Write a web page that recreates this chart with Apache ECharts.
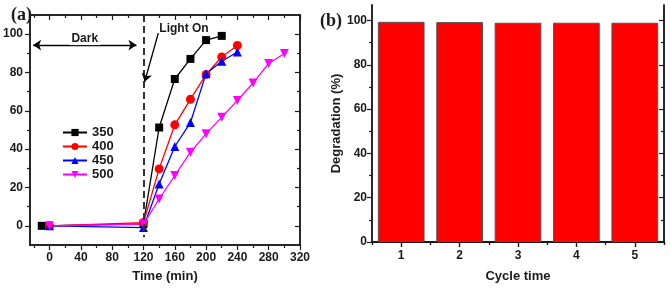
<!DOCTYPE html>
<html>
<head>
<meta charset="utf-8">
<script src="https://cdn.jsdelivr.net/npm/echarts@6/dist/echarts.min.js"></script>
<style>
  html, body { margin: 0; padding: 0; background: #fff; }
  #chart { width: 670px; height: 288px; }
</style>
</head>
<body>
<div id="chart"></div>
<script>
// (a) degradation vs time, one series per setting
const times350 = [-10, 120, 140, 160, 180, 200, 220]
const deg350 = [0, 1.0, 51.3, 76.6, 87.1, 96.9, 99.1]
const times400 = [0, 120, 140, 160, 180, 200, 220, 240]
const deg400 = [0, 1.7, 29.7, 52.7, 66.0, 79.0, 88.1, 94.1]
const times450 = [0, 120, 140, 160, 180, 200, 220, 240]
const deg450 = [0, -0.9, 21.8, 41.4, 53.9, 79.4, 85.9, 90.7]
const times500 = [0, 120, 140, 160, 180, 200, 220, 240, 260, 280, 300]
const deg500 = [0, 0.9, 14.0, 26.2, 38.4, 48.0, 56.7, 65.4, 74.5, 84.7, 89.9]

const timeTicks = [0, 40, 80, 120, 160, 200, 240, 280, 320]
const timeMinor = [-20, 20, 60, 100, 140, 180, 220, 260, 300]
const degTicks = [0, 20, 40, 60, 80, 100]
const degMinor = [10, 30, 50, 70, 90]

// (b) cycling test
const cycles = ['1', '2', '3', '4', '5']
const degCycle = [99.4, 99.3, 99.0, 99.0, 99.0]

const ink = '#1a1a1a'
const font = 'Liberation Sans'
const labelStyle = { color: ink, fontFamily: font, fontWeight: 'bold', fontSize: 12 }

const zip = (xs, ys) => xs.map((x, i) => [x, ys[i]])

// box frame: labelled main axis + minor ticks, mirrored inward on the far side
function valueFrame(dim, grid, min, max, majors, minors, margin, extra) {
  const sides = dim === 'x' ? ['bottom', 'top'] : ['left', 'right']
  const mk = (pos, vals, len, inside, withLabel) => ({
    type: 'value', gridIndex: grid, min, max, position: pos,
    axisLine: { show: true, onZero: false, lineStyle: { color: ink, width: 1.5 } },
    splitLine: { show: false },
    axisTick: { show: true, inside, length: len, customValues: vals, lineStyle: { color: ink, width: 1.2 } },
    axisLabel: withLabel ? Object.assign({ customValues: vals }, labelStyle, { margin }) : { show: false }
  })
  return [
    Object.assign(mk(sides[0], majors, 5, false, true), extra || {}),
    mk(sides[0], minors, 3, false, false),
    mk(sides[1], majors, 5, true, false),
    mk(sides[1], minors, 3, true, false)
  ]
}

function categoryFrame(grid, data, extra) {
  const mk = (pos, align, len, inside, withLabel) => ({
    type: 'category', gridIndex: grid, data, position: pos,
    axisLine: { show: true, lineStyle: { color: ink, width: 1.5 } },
    axisTick: { show: true, alignWithLabel: align, inside, length: len, lineStyle: { color: ink, width: 1.2 } },
    axisLabel: withLabel ? Object.assign({}, labelStyle, { margin: 8 }) : { show: false }
  })
  return [
    Object.assign(mk('bottom', true, 5, false, true), extra || {}),
    mk('bottom', false, 3, false, false),
    mk('top', true, 5, true, false),
    mk('top', false, 3, true, false)
  ]
}

const axisName = { color: ink, fontFamily: font, fontWeight: 'bold', fontSize: 13 }

const lineSeries = (name, xs, ys, color, symbol, size) => ({
  name, type: 'line', xAxisIndex: 0, yAxisIndex: 0,
  data: zip(xs, ys),
  symbol, symbolSize: size,
  lineStyle: { color, width: 1.3 },
  itemStyle: { color }
})

const s350 = lineSeries('350', times350, deg350, '#000000', 'rect', 8)
s350.markLine = {
  silent: true,
  animation: false,
  symbol: 'none',
  data: [
    [
      { coord: [120, 110], lineStyle: { color: '#333', width: 2, type: [7, 4] } },
      { coord: [120, -6] }
    ],
    [
      { coord: [-21, 94.3], symbol: 'arrow', symbolSize: 8, lineStyle: { color: '#000', width: 1.3, type: 'solid' },
        label: { show: true, position: 'middle', formatter: 'Dark', distance: 0, color: ink,
                 fontFamily: font, fontWeight: 'bold', fontSize: 12, backgroundColor: '#fff', padding: [0, 2] } },
      { coord: [111, 94.3], symbol: 'arrow', symbolSize: 8 }
    ],
    [
      { coord: [139, 100.6], symbol: 'none', lineStyle: { color: '#000', width: 1.3, type: 'solid' }, label: { show: false } },
      { coord: [121.5, 75.2], symbol: 'arrow', symbolSize: 8 }
    ]
  ]
}
s350.markPoint = {
  silent: true,
  animation: false,
  symbol: 'circle', symbolSize: 0,
  data: [{ coord: [139, 103], label: { show: true, position: 'right', distance: 1, formatter: 'Light On',
           color: ink, fontFamily: font, fontWeight: 'bold', fontSize: 12 } }]
}

const option = {
  animation: false,
  backgroundColor: '#fff',
  title: [
    { text: '(a)', left: 6, top: 1, textStyle: { fontFamily: 'Liberation Serif', fontWeight: 'bold', fontSize: 18, color: ink } },
    { text: '(b)', left: 315, top: 7, textStyle: { fontFamily: 'Liberation Serif', fontWeight: 'bold', fontSize: 18, color: ink } }
  ],
  legend: {
    left: 57, top: 121, orient: 'vertical',
    itemWidth: 24, itemHeight: 9, itemGap: 1,
    data: ['350', '400', '450', '500'],
    textStyle: { color: ink, fontFamily: font, fontWeight: 'bold', fontSize: 13 }
  },
  grid: [
    { left: 22, right: 370, top: 15, bottom: 43 },
    { left: 372, right: 6, top: 5, bottom: 45 }
  ],
  xAxis: [
    ...valueFrame('x', 0, -25, 320, timeTicks, timeMinor, 7,
      { name: 'Time (min)', nameLocation: 'middle', nameGap: 25, nameTextStyle: axisName }),
    ...categoryFrame(1, cycles,
      { name: 'Cycle time', nameLocation: 'middle', nameGap: 28, nameTextStyle: axisName })
  ],
  yAxis: [
    ...valueFrame('y', 0, -10, 110, degTicks, degMinor, 7),
    ...valueFrame('y', 1, 0, 107, degTicks, degMinor, 5,
      { name: 'Degradation (%)', nameLocation: 'middle', nameGap: 28, nameTextStyle: axisName })
  ],
  series: [
    s350,
    lineSeries('400', times400, deg400, '#ff0000', 'circle', 9),
    lineSeries('450', times450, deg450, '#0000ff', 'triangle', 9),
    lineSeries('500', times500, deg500, '#ff00ff', 'path://M0,0 L10,0 L5,9 Z', 9),
    {
      name: 'cycle', type: 'bar', xAxisIndex: 4, yAxisIndex: 4,
      data: degCycle, barWidth: '80%',
      itemStyle: { color: '#ff0000', borderColor: '#555', borderWidth: 1 }
    }
  ]
}

const chart = echarts.init(document.getElementById('chart'))
chart.setOption(option)
window.addEventListener('resize', () => chart.resize())
</script>
</body>
</html>
